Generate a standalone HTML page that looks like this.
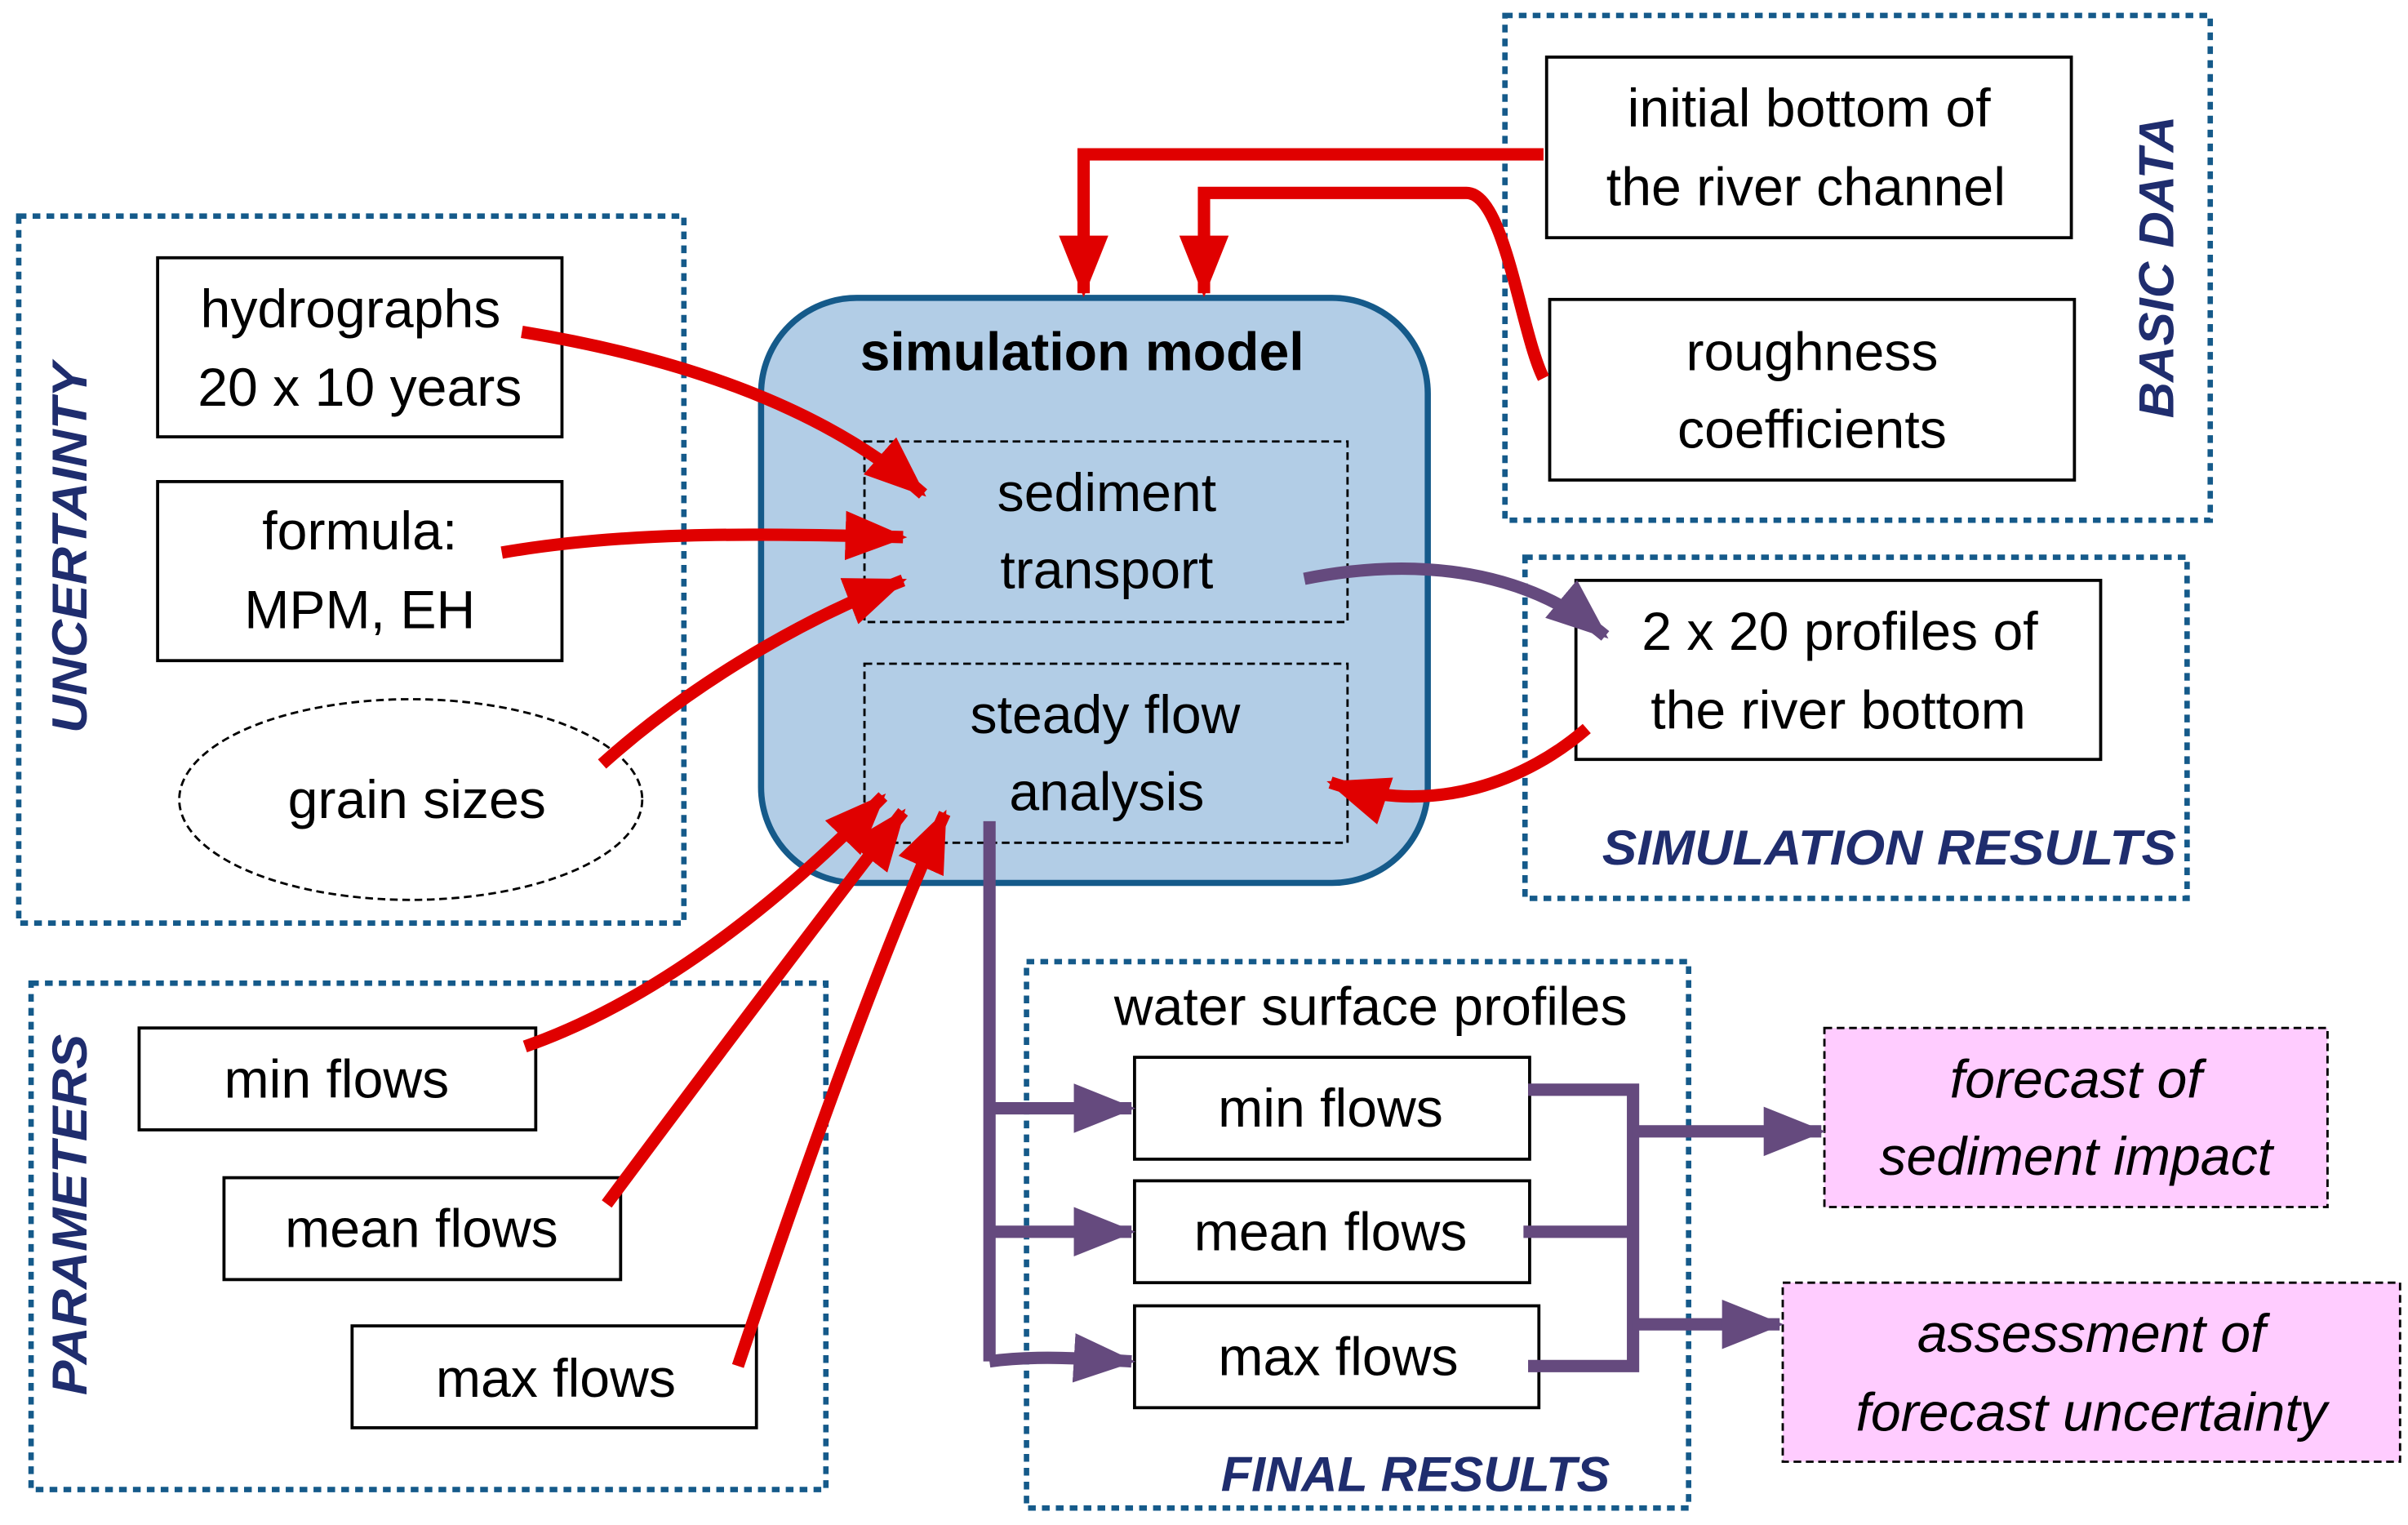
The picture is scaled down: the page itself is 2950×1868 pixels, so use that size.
<!DOCTYPE html>
<html><head><style>html,body{margin:0;padding:0;background:#fff}svg{display:block}</style></head>
<body>
<svg xmlns="http://www.w3.org/2000/svg" width="2950" height="1868" viewBox="0 0 1560 988" font-family="Liberation Sans, sans-serif">
<defs>
<marker id="ar" markerUnits="userSpaceOnUse" markerWidth="40" markerHeight="40" viewBox="0 0 30 30" refX="28" refY="15" orient="auto"><path d="M0,3 L30,15 L0,27 Z" fill="#e00000"/></marker>
<marker id="ap" markerUnits="userSpaceOnUse" markerWidth="40" markerHeight="40" viewBox="0 0 30 30" refX="28" refY="15" orient="auto"><path d="M0,3 L30,15 L0,27 Z" fill="#654a7e"/></marker>
</defs>
<g fill="none" stroke="#155a8a" stroke-width="3.5" stroke-dasharray="5,4">
<rect x="12" y="140" width="431" height="458"/>
<rect x="20" y="637" width="515" height="328"/>
<rect x="975" y="10" width="457" height="327"/>
<rect x="988" y="361" width="429" height="221"/>
<rect x="665" y="623" width="429" height="354"/>
</g>
<g fill="#1f2d6e" font-weight="bold" font-style="italic" font-size="32">
<text transform="translate(56,355) rotate(-90)" text-anchor="middle" textLength="240" lengthAdjust="spacingAndGlyphs">UNCERTAINTY</text>
<text transform="translate(56,787) rotate(-90)" text-anchor="middle" textLength="234" lengthAdjust="spacingAndGlyphs">PARAMETERS</text>
<text transform="translate(1408,173) rotate(-90)" text-anchor="middle" textLength="196" lengthAdjust="spacingAndGlyphs">BASIC DATA</text>
<text x="1224" y="560" text-anchor="middle" textLength="372" lengthAdjust="spacingAndGlyphs">SIMULATION RESULTS</text>
<text x="917" y="966" text-anchor="middle" textLength="252" lengthAdjust="spacingAndGlyphs">FINAL RESULTS</text>
</g>
<rect x="493" y="193" width="432" height="379" rx="62" fill="#b2cde6" stroke="#155a8a" stroke-width="4"/>
<g fill="none" stroke="#000" stroke-width="1.5" stroke-dasharray="5,3">
<rect x="560" y="286" width="313" height="117"/>
<rect x="560" y="430" width="313" height="116"/>
<ellipse cx="266" cy="518" rx="150" ry="65"/>
</g>
<rect x="1182" y="666" width="326" height="116" fill="#ffccff" stroke="#000" stroke-width="1.5" stroke-dasharray="5,3"/>
<rect x="1155" y="831" width="400" height="116" fill="#ffccff" stroke="#000" stroke-width="1.5" stroke-dasharray="5,3"/>
<g fill="#fff" stroke="#000" stroke-width="2">
<rect x="102" y="167" width="262" height="116"/>
<rect x="102" y="312" width="262" height="116"/>
<rect x="90" y="666" width="257" height="66"/>
<rect x="145" y="763" width="257" height="66"/>
<rect x="228" y="859" width="262" height="66"/>
<rect x="1002" y="37" width="340" height="117"/>
<rect x="1004" y="194" width="340" height="117"/>
<rect x="1021" y="376" width="340" height="116"/>
<rect x="735" y="685" width="256" height="66"/>
<rect x="735" y="765" width="256" height="66"/>
<rect x="735" y="846" width="262" height="66"/>
</g>
<g fill="#000" font-size="35" text-anchor="middle">
<text x="227" y="212">hydrographs</text>
<text x="233" y="263">20 x 10 years</text>
<text x="233" y="356">formula:</text>
<text x="233" y="407">MPM, EH</text>
<text x="270" y="530">grain sizes</text>
<text x="218" y="711">min flows</text>
<text x="273" y="808">mean flows</text>
<text x="360" y="905">max flows</text>
<text x="1172" y="82">initial bottom of</text>
<text x="1170" y="133">the river channel</text>
<text x="1174" y="240">roughness</text>
<text x="1174" y="290">coefficients</text>
<text x="1192" y="421">2 x 20 profiles of</text>
<text x="1191" y="472">the river bottom</text>
<text x="717" y="331">sediment</text>
<text x="717" y="381">transport</text>
<text x="716" y="475">steady flow</text>
<text x="717" y="525">analysis</text>
<text x="888" y="664">water surface profiles</text>
<text x="862" y="730">min flows</text>
<text x="862" y="810">mean flows</text>
<text x="867" y="891">max flows</text>
<text x="701" y="240" font-weight="bold">simulation model</text>
<g font-style="italic"><text x="1345" y="711">forecast of</text>
<text x="1345" y="761">sediment impact</text>
<text x="1355" y="876">assessment of</text>
<text x="1355" y="927">forecast uncertainty</text></g>
</g>
<g fill="none" stroke="#e00000" stroke-width="8">
<path d="M1000,100 L702,100 L702,190" marker-end="url(#ar)"/>
<path d="M1000,245 C985,215 975,125 950,125 L780,125 L780,190" marker-end="url(#ar)"/>
<path d="M338,215 C430,230 530,260 598,320" marker-end="url(#ar)"/>
<path d="M325,358 C400,345 480,345 585,348" marker-end="url(#ar)"/>
<path d="M390,495 C440,450 510,405 585,376" marker-end="url(#ar)"/>
<path d="M340,678 C420,650 500,590 572,516" marker-end="url(#ar)"/>
<path d="M393,780 C460,690 520,610 585,526" marker-end="url(#ar)"/>
<path d="M478,885 C520,760 570,620 612,527" marker-end="url(#ar)"/>
<path d="M1028,472 C990,505 930,530 862,507" marker-end="url(#ar)"/>
</g>
<g fill="none" stroke="#654a7e" stroke-width="8">
<path d="M845,375 C920,360 990,370 1040,412" marker-end="url(#ap)"/>
<path d="M641,532 L641,882"/>
<path d="M641,718 L733,718" marker-end="url(#ap)"/>
<path d="M641,798 L733,798" marker-end="url(#ap)"/>
<path d="M641,882 C670,878 700,880 733,882" marker-end="url(#ap)"/>
<path d="M990,706 L1058,706 L1058,885 L990,885"/>
<path d="M987,798 L1058,798"/>
<path d="M1058,733 L1180,733" marker-end="url(#ap)"/>
<path d="M1058,858 L1153,858" marker-end="url(#ap)"/>
</g>
</svg>
</body></html>
